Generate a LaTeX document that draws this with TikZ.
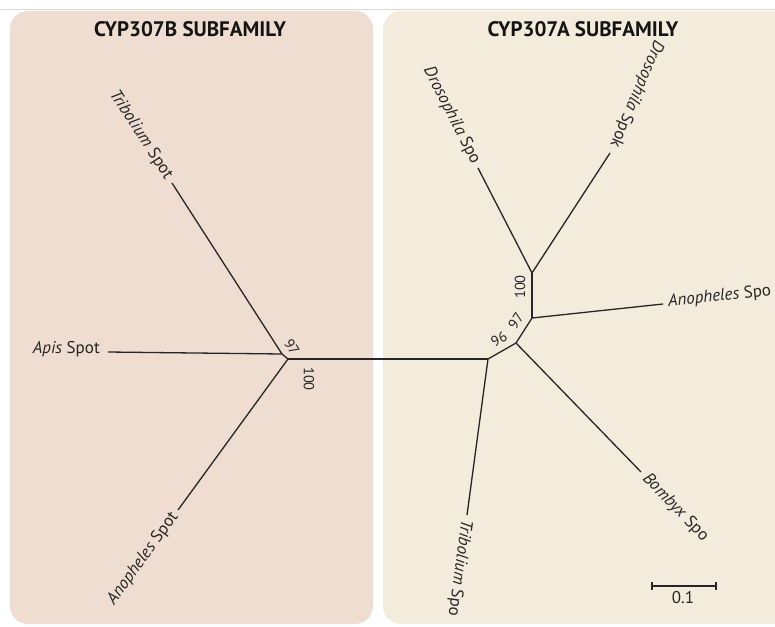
\documentclass[tikz,border=0pt]{standalone}
\usepackage{fontspec}
\setmainfont{PT Sans}
\usetikzlibrary{calc}
\definecolor{leftbg}{RGB}{238,221,208}
\definecolor{rightbg}{RGB}{243,235,220}
\definecolor{ink}{RGB}{38,38,38}
\begin{document}
\begin{tikzpicture}[x=1pt,y=-1pt,
  branch/.style={draw=ink, line width=1.3pt},
  leaf/.style={font=\fontsize{17}{19}\selectfont, text=ink, inner sep=0pt},
  boot/.style={font=\fontsize{14.5}{16}\selectfont, text=ink, inner sep=0pt},
  ttl/.style={font=\bfseries\fontsize{21}{24}\selectfont, text=black!92, inner sep=0pt}]
\useasboundingbox (0,0) rectangle (775,626);
\fill[white] (0,0) rectangle (775,626);
\draw[black!15, line width=0.8pt] (0,9) -- (775,9);
% panels
\fill[leftbg, rounded corners=18pt] (10,11) rectangle (373,624);
\fill[rightbg, rounded corners=18pt] (383,11) rectangle (800,624);
% titles
\node[ttl] (t1) at (190,29) {CYP307B SUBFAMILY};
\node[ttl] (t2) at (583,29) {CYP307A SUBFAMILY};
% internal nodes
\coordinate (A1) at (282,354);
\coordinate (A2) at (288,359);
\coordinate (B1) at (488,359);
\coordinate (B2) at (516,343);
\coordinate (B3) at (532,318);
\coordinate (B4) at (532,273);
% leaf ends
\coordinate (tsp) at (172,183);
\coordinate (asp) at (108,352);
\coordinate (ansp) at (178,510);
\coordinate (dspo) at (478,168);
\coordinate (dspk) at (610,153);
\coordinate (anspo) at (663,304);
\coordinate (bspo) at (641,472);
\coordinate (tspo) at (467,515);
% branches
\draw[branch] (tsp) -- (A1);
\draw[branch] (asp) -- (A1);
\draw[branch] (A1) -- (A2);
\draw[branch] (ansp) -- (A2);
\draw[branch] (A2) -- (B1);
\draw[branch] (B1) -- (tspo);
\draw[branch] (B1) -- (B2);
\draw[branch] (B2) -- (bspo);
\draw[branch] (B2) -- (B3);
\draw[branch] (B3) -- (anspo);
\draw[branch] (B3) -- (B4);
\draw[branch] (B4) -- (dspo);
\draw[branch] (B4) -- (dspk);
% leaf labels
\node[leaf, anchor=east, rotate=-57] (l1) at (169,178) {\textit{Tribolium} Spot};
\node[leaf, anchor=east] (l2) at (100,349) {\textit{Apis} Spot};
\node[leaf, anchor=east, rotate=54] (l3) at (175,514) {\textit{Anopheles} Spot};
\node[leaf, anchor=east, rotate=-63] (l4) at (476,163) {\textit{Drosophila} Spo};
\node[leaf, anchor=east, rotate=-113] (l5) at (614,147) {\textit{Drosophila} Spok};
\node[leaf, anchor=west, rotate=6] (l6) at (668,302) {\textit{Anopheles} Spo};
\node[leaf, anchor=west, rotate=-46] (l7) at (645,476) {\textit{Bombyx} Spo};
\node[leaf, anchor=west, rotate=-97.7] (l8) at (466,520) {\textit{Tribolium} Spo};
% bootstrap values
\node[boot, rotate=-57] (b1) at (292,347) {97};
\node[boot, rotate=-90] (b2) at (309,379) {100};
\node[boot, rotate=30] (b3) at (499,339) {96};
\node[boot, rotate=57] (b4) at (516,321) {97};
\node[boot, rotate=90] (b5) at (520,287) {100};
% scale bar
\coordinate (s1) at (652,586);
\coordinate (s2) at (716,586);
\draw[branch] (s1) -- (s2);
\draw[branch] ($(s1)+(0,-4)$) -- ($(s1)+(0,4)$);
\draw[branch] ($(s2)+(0,-4)$) -- ($(s2)+(0,4)$);
\node[boot, font=\fontsize{17}{18}\selectfont] (sl) at (683,598) {0.1};
\end{tikzpicture}
\end{document}
